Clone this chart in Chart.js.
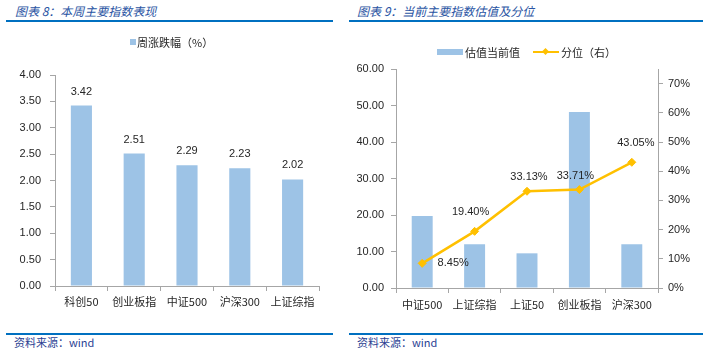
<!DOCTYPE html>
<html><head><meta charset="utf-8">
<script src="https://cdn.jsdelivr.net/npm/chart.js@4.4.1/dist/chart.umd.min.js"></script>
<style>
body{margin:0;width:703px;height:355px;position:relative;background:#fff;overflow:hidden;font-family:"Liberation Sans","Noto Sans CJK SC",sans-serif;}
.title{position:absolute;top:4px;font-size:12px;line-height:14px;font-style:italic;color:#2a54a3;white-space:nowrap;font-family:"Noto Sans CJK SC",sans-serif;}
.rule{position:absolute;background:#0070C0;}
.src{position:absolute;top:335px;font-size:11px;line-height:14px;color:#2b3f93;white-space:nowrap;font-family:"Noto Sans CJK SC",sans-serif;}
canvas{position:absolute;top:0;}
.lg{position:absolute;font-size:11px;line-height:14px;color:#262626;white-space:nowrap;font-family:"Noto Sans CJK SC",sans-serif;}
.sw{position:absolute;}
</style>
</head><body>
<div class="title" style="left:15px">图表 8：本周主要指数表现</div>
<div class="title" style="left:357px">图表 9：当前主要指数估值及分位</div>
<div class="rule" style="left:6px;top:20px;width:327px;height:2px"></div>
<div class="rule" style="left:349px;top:20px;width:354px;height:2px"></div>
<canvas id="c1" width="350" height="320" style="left:0"></canvas>
<canvas id="c2" width="353" height="320" style="left:350px"></canvas>
<div class="sw" style="left:130px;top:39px;width:6px;height:6px;background:#9DC3E6"></div>
<div class="lg" style="left:137px;top:35px">周涨跌幅（%）</div>
<div class="sw" style="left:437px;top:49px;width:26px;height:6px;background:#9DC3E6"></div>
<div class="lg" style="left:465px;top:45px">估值当前值</div>
<div class="sw" style="left:533px;top:51px;width:26px;height:2px;background:#FFC000"></div>
<div class="sw" style="left:543px;top:49px;width:5px;height:5px;background:#FFC000;transform:rotate(45deg)"></div>
<div class="lg" style="left:561px;top:45px">分位（右）</div>
<div class="rule" style="left:6px;top:333px;width:327px;height:1.5px"></div>
<div class="rule" style="left:349px;top:333px;width:354px;height:1.5px"></div>
<div class="src" style="left:14px">资料来源：wind</div>
<div class="src" style="left:357px">资料来源：wind</div>
<script>
// ---- data ----
const weekCategories = ['科创50','创业板指','中证500','沪深300','上证综指'];
const weekChange = [3.42, 2.51, 2.29, 2.23, 2.02];
const weekTicks = [0, 0.5, 1, 1.5, 2, 2.5, 3, 3.5, 4];

const valCategories = ['中证500','上证综指','上证50','创业板指','沪深300'];
const valCurrent = [19.7, 12.0, 9.5, 48.2, 12.0];
const valPercentile = [8.45, 19.40, 33.13, 33.71, 43.05];
const valLeftTicks = [0, 10, 20, 30, 40, 50, 60];
const valRightTicks = [0, 10, 20, 30, 40, 50, 60, 70];

// ---- styles ----
const AXIS = '#A6A6A6';
const TXT = '#262626';
const BAR = '#9DC3E6';
const LINE = '#FFC000';
const numFont = {family:'"Liberation Sans","Noto Sans CJK SC",sans-serif', size:11};
const catFont = {family:'"Noto Sans CJK SC",sans-serif', size:11};

Chart.defaults.devicePixelRatio = 1;

const labelPlugin = {
  id:'valueLabels',
  afterDatasetsDraw(chart, args, opts){
    const ctx = chart.ctx;
    (opts.items||[]).forEach(item=>{
      const meta = chart.getDatasetMeta(item.dataset);
      const data = chart.data.datasets[item.dataset].data;
      ctx.save();
      ctx.font = '11px "Liberation Sans","Noto Sans CJK SC",sans-serif';
      ctx.fillStyle = TXT; ctx.textAlign='center'; ctx.textBaseline='middle';
      meta.data.forEach((el,j)=>{
        const off = item.offsets ? item.offsets[j] : item.offset;
        ctx.fillText(item.format(data[j]), el.x + off[0], el.y + off[1]);
      });
      ctx.restore();
    });
  }
};

function fitW(w){ return s => { s.width = w; }; }
function fitH(h){ return s => { s.height = h; }; }
const gridCfg = {display:true, drawOnChartArea:false, drawTicks:true, tickLength:5, color:AXIS};
const borderCfg = {display:true, color:AXIS, width:1};

new Chart(document.getElementById('c1'), {
  type:'bar',
  data:{labels:weekCategories, datasets:[{label:'周涨跌幅（%）', data:weekChange, backgroundColor:BAR, categoryPercentage:1, barPercentage:0.4}]},
  options:{
    responsive:false, animation:false,
    layout:{padding:{top:75, right:31, bottom:0, left:0}},
    plugins:{legend:{display:false}, tooltip:{enabled:false},
      valueLabels:{items:[{dataset:0, offset:[0,-14], format:v=>v.toFixed(2)}]}},
    scales:{
      x:{grid:gridCfg, border:borderCfg, ticks:{color:TXT, font:catFont, padding:4, maxRotation:0}, afterFit:fitH(34)},
      y:{min:0, max:4, grid:gridCfg, border:borderCfg,
         afterBuildTicks:s=>{ s.ticks = weekTicks.map(v=>({value:v})); },
         ticks:{color:TXT, font:numFont, padding:9, callback:v=>Number(v).toFixed(2)}, afterFit:fitW(55)}
    }
  },
  plugins:[labelPlugin]
});

new Chart(document.getElementById('c2'), {
  type:'bar',
  data:{labels:valCategories, datasets:[
    {type:'line', label:'分位（右）', data:valPercentile, yAxisID:'y1', order:0,
     borderColor:LINE, backgroundColor:LINE, borderWidth:2.5, pointStyle:'rectRot', pointRadius:4, pointBorderWidth:1, tension:0, fill:false},
    {label:'估值当前值', data:valCurrent, yAxisID:'y', order:1, backgroundColor:BAR, categoryPercentage:1, barPercentage:0.4}
  ]},
  options:{
    responsive:false, animation:false,
    layout:{padding:{top:69, right:0, bottom:0, left:0}},
    plugins:{legend:{display:false}, tooltip:{enabled:false},
      valueLabels:{items:[{dataset:0, offsets:[[31,0],[-4,-19],[2,-14],[-4,-14],[4,-19]], format:v=>v.toFixed(2)+'%'}]}},
    scales:{
      x:{grid:gridCfg, border:borderCfg, ticks:{color:TXT, font:catFont, padding:5, maxRotation:0}, afterFit:fitH(32)},
      y:{position:'left', min:0, max:60, grid:gridCfg, border:borderCfg,
         afterBuildTicks:s=>{ s.ticks = valLeftTicks.map(v=>({value:v})); },
         ticks:{color:TXT, font:numFont, padding:7, callback:v=>Number(v).toFixed(2)}, afterFit:fitW(46)},
      y1:{position:'right', min:0, max:75, grid:gridCfg, border:borderCfg,
         afterBuildTicks:s=>{ s.ticks = valRightTicks.map(v=>({value:v})); },
         ticks:{color:TXT, font:numFont, padding:5, callback:v=>v+'%'}, afterFit:fitW(45)}
    }
  },
  plugins:[labelPlugin]
});
</script>
</body></html>
